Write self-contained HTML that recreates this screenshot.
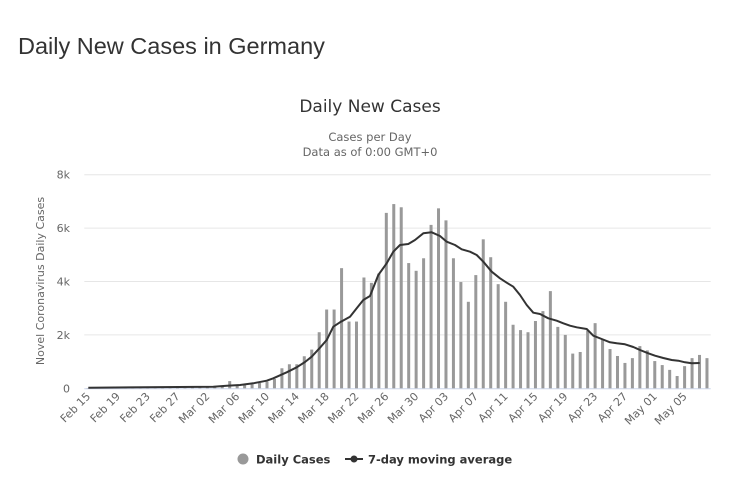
<!DOCTYPE html>
<html><head><meta charset="utf-8"><style>
body{margin:0;background:#fff;width:736px;height:485px;overflow:hidden}
svg{display:block}
</style></head><body>
<svg id="s" width="736" height="485" xmlns="http://www.w3.org/2000/svg" font-family="'DejaVu Sans', 'Liberation Sans', sans-serif">
<text x="18" y="54" font-family="'Liberation Sans', sans-serif" font-size="23.5" fill="#333">Daily New Cases in Germany</text>
<text x="370" y="112" text-anchor="middle" font-size="17" fill="#333">Daily New Cases</text>
<text x="370" y="141" text-anchor="middle" font-size="11.5" fill="#666">Cases per Day</text>
<text x="370" y="156" text-anchor="middle" font-size="11.5" fill="#666">Data as of 0:00 GMT+0</text>
<text transform="translate(44,281) rotate(-90)" text-anchor="middle" font-size="11" fill="#666">Novel Coronavirus Daily Cases</text>
<g id="grid"></g>
<g id="bars"></g>
<polyline id="ln" fill="none" stroke="#333" stroke-width="2" stroke-linejoin="round"/>
<g id="xl"></g>
<circle cx="243" cy="459" r="5.5" fill="#999"/>
<text x="256" y="463.5" font-size="11.5" font-weight="bold" fill="#333">Daily Cases</text>
<line x1="345" y1="459" x2="363" y2="459" stroke="#333" stroke-width="2"/>
<circle cx="354" cy="459" r="3.5" fill="#333"/>
<text x="368" y="463.5" font-size="11.5" font-weight="bold" fill="#333">7-day moving average</text>
</svg>
<script>
var NS="http://www.w3.org/2000/svg";
function el(t,a,p,txt){var e=document.createElementNS(NS,t);for(var k in a)e.setAttribute(k,a[k]);if(txt)e.textContent=txt;document.getElementById(p).appendChild(e);return e;}
var L=84.3,R=710.7,Y0=388.3,PK=26.7,DW=(R-L)/84;
var g=[0,2,4,6,8];
g.forEach(function(v){var y=Y0-v*PK;
 if(v>0)el("line",{x1:L,x2:R,y1:y,y2:y,stroke:"#e6e6e6","stroke-width":1},"grid");
 el("text",{x:70,y:y+4,"text-anchor":"end","font-size":"11",fill:"#666"},"grid",v?v+"k":"0");});
el("line",{x1:L,x2:R,y1:Y0+0.5,y2:Y0+0.5,stroke:"#ccd6eb","stroke-width":1},"grid");
var d=[0.01,0.01,0.01,0.01,0.01,0.01,0.01,0.01,0.01,0.01,0.01,0.01,0.02,0.02,0.03,0.03,0.03,0.05,0.08,0.27,0.1,0.13,0.15,0.2,0.25,0.35,0.75,0.9,0.9,1.2,1.45,2.1,2.95,2.95,4.5,2.5,2.5,4.15,3.95,4.3,6.57,6.9,6.78,4.69,4.4,4.87,6.12,6.74,6.29,4.87,3.98,3.24,4.24,5.58,4.91,3.9,3.24,2.38,2.18,2.1,2.52,2.89,3.64,2.3,2.0,1.3,1.36,2.16,2.44,1.84,1.47,1.21,0.95,1.13,1.58,1.42,1.02,0.87,0.69,0.46,0.83,1.13,1.25,1.13];
d.forEach(function(v,i){var cx=L+(i+0.5)*DW,h=v*PK;
 el("rect",{x:cx-1.5,y:Y0-h,width:3,height:h,fill:"#999"},"bars");});
var labels=["Feb 15","Feb 19","Feb 23","Feb 27","Mar 02","Mar 06","Mar 10","Mar 14","Mar 18","Mar 22","Mar 26","Mar 30","Apr 03","Apr 07","Apr 11","Apr 15","Apr 19","Apr 23","Apr 27","May 01","May 05"];
labels.forEach(function(s,k){var cx=L+(4*k+0.5)*DW+3;
 el("text",{transform:"translate("+cx+",397) rotate(-45)","text-anchor":"end","font-size":"11",fill:"#666"},"xl",s);});
var p1=[[145,683],[520,680],[560,677],[600,675],[640,670],[680,662],[700,655],[740,637],[770,622],[795,606],[815,590],[840,563],[860,540],[880,500],[900,487],[930,470],[950,445],[970,420],[990,408]];
var p2=[[25,345],[50,310],[70,275],[90,255],[115,252],[135,240],[160,220],[185,217],[210,228],[230,245],[255,255],[275,268],[300,275],[320,285],[340,305],[365,335],[390,355],[410,368],[430,380],[450,405],[470,435],[490,458],[510,462],[535,475],[560,482],[580,490],[600,497],[620,502],[650,507],[670,527],[695,537],[720,547],[740,550],[765,553],[790,561],[810,570],[835,580],[855,587],[880,594],[905,600],[925,602],[945,607],[965,610],[989,609]];
var pts=[];
p1.forEach(function(p){pts.push((40+p[0]/3).toFixed(1)+","+(160+p[1]/3).toFixed(1));});
p2.forEach(function(p){pts.push((370+p[0]/3).toFixed(1)+","+(160+p[1]/3).toFixed(1));});
document.getElementById("ln").setAttribute("points",pts.join(" "));
</script>
</body></html>
